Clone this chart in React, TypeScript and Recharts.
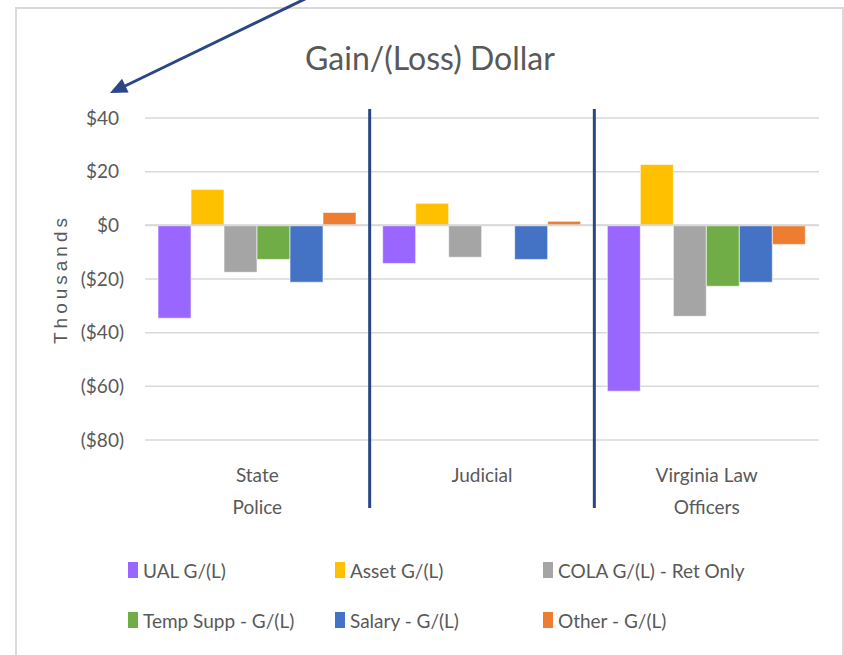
import React from 'react';
import { BarChart, Bar, XAxis, YAxis, CartesianGrid, ReferenceLine, Label } from 'recharts';

const categories = ['State Police', 'Judicial', 'Virginia Law Officers'];
const categoryLines = [['State', 'Police'], ['Judicial'], ['Virginia Law', 'Officers']];

// values in thousands of dollars
const ualGL = [-34.6, -14.2, -61.8];
const assetGL = [13.4, 8.2, 22.7];
const colaGL = [-17.5, -11.9, -33.9];
const tempSuppGL = [-12.7, 0, -22.7];
const salaryGL = [-21.2, -12.7, -21.2];
const otherGL = [4.8, 1.5, -7.1];

const yTicks = [-80, -60, -40, -20, 0, 20, 40];
const separators = [1, 2];

const seriesKeys = ['ual', 'asset', 'cola', 'temp', 'salary', 'other'];
const seriesNames = ['UAL G/(L)', 'Asset G/(L)', 'COLA G/(L) - Ret Only', 'Temp Supp - G/(L)', 'Salary - G/(L)', 'Other - G/(L)'];
const seriesColors = ['#9966FF', '#FFC000', '#A5A5A5', '#70AD47', '#4472C4', '#ED7D31'];
const seriesValues = [ualGL, assetGL, colaGL, tempSuppGL, salaryGL, otherGL];

const data = categories.map((name, i) => {
  const row: Record<string, string | number> = { name, idx: i };
  seriesKeys.forEach((k, s) => {
    row[k] = seriesValues[s][i];
  });
  return row;
});

const FONT = "Lato, 'DejaVu Sans Condensed', sans-serif";
const TEXT = '#595959';
const NAVY = '#2B4684';

const fmtDollar = (v: number) => (v < 0 ? `($${Math.abs(v)})` : `$${v}`);

const YTick = ({ x, y, payload }: any) => {
  const v = Number(payload.value);
  return (
    <text x={x - (v >= 0 ? 26 : 21)} y={y} dy="0.35em" textAnchor="end" fill={TEXT} fontSize={19} fontFamily={FONT}>
      {fmtDollar(v)}
    </text>
  );
};

const XTick = ({ x, y, index }: any) => {
  const lines = categoryLines[index] ?? [];
  return (
    <text x={x} y={y} textAnchor="middle" fill={TEXT} fontSize={19} fontFamily={FONT}>
      {lines.map((l, i) => (
        <tspan key={i} x={x} y={y + 42 + i * 32}>
          {l}
        </tspan>
      ))}
    </text>
  );
};

const AxisTitle = ({ viewBox }: any) => {
  const cy = viewBox.y + viewBox.height / 2;
  return (
    <text
      x={60}
      y={cy}
      transform={`rotate(-90 60 ${cy})`}
      textAnchor="middle"
      dominantBaseline="central"
      fill={TEXT}
      fontSize={19}
      letterSpacing={4}
      fontFamily="'Liberation Sans', Arial, sans-serif"
    >
      Thousands
    </text>
  );
};

const legendCols = [128, 335, 543];
const legendRows = [570, 620];

export default function App() {
  return (
    <div style={{ position: 'absolute', left: 0, top: 0, width: 844, height: 655, overflow: 'hidden', background: '#fff' }}>
      <div
        style={{
          position: 'absolute',
          left: 15,
          top: 7,
          width: 829,
          height: 700,
          boxSizing: 'border-box',
          border: '2px solid #D9D9D9',
        }}
      />
      <div style={{ position: 'absolute', left: 0, top: 0 }}>
        <BarChart
          width={844}
          height={655}
          data={data}
          margin={{ top: 118, right: 25, bottom: 125, left: 16 }}
          barCategoryGap={13}
          barGap={0}
        >
          <CartesianGrid vertical={false} stroke="#D9D9D9" strokeWidth={1.5} />
          <XAxis
            dataKey="name"
            height={90}
            axisLine={false}
            tickLine={false}
            tickSize={0}
            tickMargin={0}
            interval={0}
            tick={<XTick />}
          />
          <XAxis xAxisId="sep" type="number" dataKey="idx" domain={[0, 3]} hide />
          <YAxis
            width={129}
            domain={[-80, 40]}
            ticks={yTicks}
            axisLine={false}
            tickLine={false}
            tickSize={0}
            tickMargin={0}
            tick={<YTick />}
          >
            <Label content={<AxisTitle />} />
          </YAxis>
          <ReferenceLine y={0} stroke="#D9D9D9" strokeWidth={2} />
          {seriesKeys.map((k, s) => (
            <Bar
              key={k}
              dataKey={k}
              name={seriesNames[s]}
              fill={seriesColors[s]}
              stroke="#ffffff"
              strokeWidth={0.6}
              isAnimationActive={false}
            />
          ))}
          {separators.map((sx) => (
            <ReferenceLine
              key={sx}
              xAxisId="sep"
              segment={[
                { x: sx, y: 43.4 },
                { x: sx, y: -105.3 },
              ]}
              ifOverflow="visible"
              stroke={NAVY}
              strokeWidth={3}
            />
          ))}
        </BarChart>
      </div>
      <svg width={844} height={655} style={{ position: 'absolute', left: 0, top: 0, pointerEvents: 'none' }}>
        {/* callout arrow pointing at the axis units */}
        <line x1={307} y1={-2} x2={125} y2={86} stroke={NAVY} strokeWidth={3} />
        <polygon points="110,93 122,78.8 128.6,92.4" fill={NAVY} />
        <text x={430} y={70} textAnchor="middle" fill={TEXT} fontSize={32} fontFamily={FONT}>
          Gain/(Loss) Dollar
        </text>
      </svg>
      {seriesNames.map((n, s) => (
        <div
          key={n}
          style={{
            position: 'absolute',
            left: legendCols[s % 3],
            top: legendRows[Math.floor(s / 3)] - 12,
            height: 24,
            display: 'flex',
            alignItems: 'center',
            fontFamily: FONT,
            fontSize: 19,
            color: TEXT,
            whiteSpace: 'nowrap',
          }}
        >
          <span style={{ display: 'inline-block', width: 10, height: 16, background: seriesColors[s], marginRight: 5 }} />
          {n}
        </div>
      ))}
    </div>
  );
}
